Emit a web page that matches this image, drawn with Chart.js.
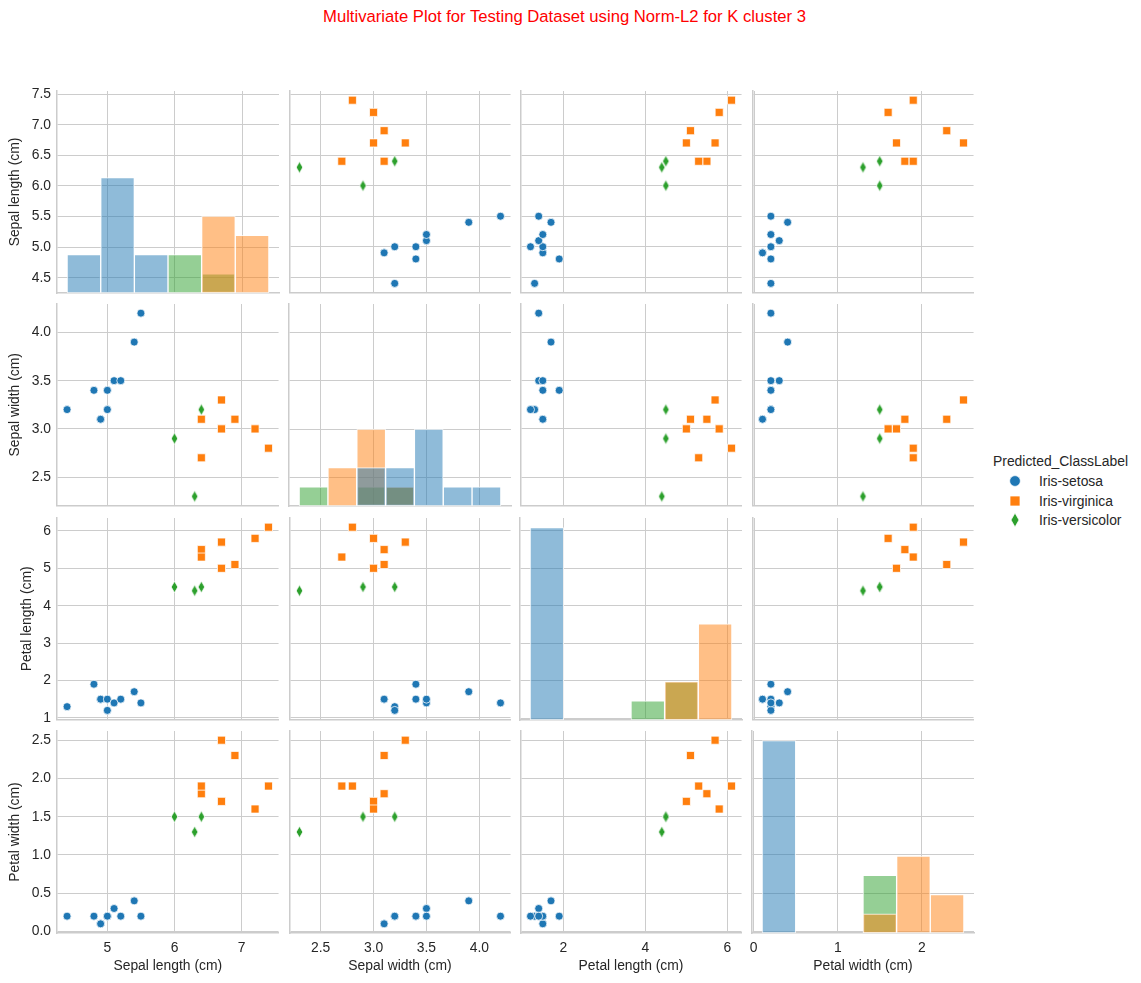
<!DOCTYPE html>
<html>
<head>
<meta charset="utf-8">
<title>Multivariate Plot</title>
<script src="https://cdn.jsdelivr.net/npm/chart.js@4"></script>
<style>
    html, body { margin: 0; padding: 0; background: #fff; }
    #page { position: relative; width: 1141px; height: 983px; overflow: hidden; font-family: "Liberation Sans", Arial, sans-serif; }
    #page canvas { position: absolute; }
    #title { position: absolute; left: 0; top: 7px; width: 1129px; margin: 0; text-align: center; color: #ff0000; font-size: 16.67px; font-weight: normal; line-height: 19px; }
    .legend-text { position: absolute; color: #262626; font-size: 13.89px; line-height: 16px; white-space: nowrap; }
</style>
</head>
<body>
<div id="page">
    <h1 id="title">Multivariate Plot for Testing Dataset using Norm-L2 for K cluster 3</h1>
</div>
<script>
const featureNames = ['Sepal length (cm)', 'Sepal width (cm)', 'Petal length (cm)', 'Petal width (cm)'];
const classNames = ['Iris-setosa', 'Iris-virginica', 'Iris-versicolor'];

// Points per class, same row order in each list
const setosaSepalLength = [4.4, 4.8, 4.9, 4.9, 5.0, 5.0, 5.1, 5.2, 5.4, 5.5];
const setosaSepalWidth = [3.2, 3.4, 3.1, 3.1, 3.4, 3.2, 3.5, 3.5, 3.9, 4.2];
const setosaPetalLength = [1.3, 1.9, 1.5, 1.5, 1.5, 1.2, 1.4, 1.5, 1.7, 1.4];
const setosaPetalWidth = [0.2, 0.2, 0.1, 0.1, 0.2, 0.2, 0.3, 0.2, 0.4, 0.2];

const virginicaSepalLength = [6.4, 6.4, 6.7, 6.7, 6.9, 7.2, 7.4];
const virginicaSepalWidth = [3.1, 2.7, 3.3, 3.0, 3.1, 3.0, 2.8];
const virginicaPetalLength = [5.5, 5.3, 5.7, 5.0, 5.1, 5.8, 6.1];
const virginicaPetalWidth = [1.8, 1.9, 2.5, 1.7, 2.3, 1.6, 1.9];

const versicolorSepalLength = [6.0, 6.3, 6.4];
const versicolorSepalWidth = [2.9, 2.3, 3.2];
const versicolorPetalLength = [4.5, 4.4, 4.5];
const versicolorPetalWidth = [1.5, 1.3, 1.5];

// Histogram bin centres and counts for the diagonal
const sepalLengthBins = [4.65, 5.15, 5.65, 6.15, 6.65, 7.15];
const sepalWidthBins = [2.436, 2.707, 2.979, 3.25, 3.521, 3.793, 4.064];
const petalLengthBins = [1.608, 2.425, 3.242, 4.058, 4.875, 5.692];
const petalWidthBins = [0.3, 0.7, 1.1, 1.5, 1.9, 2.3];

const setosaSepalLengthCounts = [2, 6, 2, 0, 0, 0];
const virginicaSepalLengthCounts = [0, 0, 0, 0, 4, 3];
const versicolorSepalLengthCounts = [0, 0, 0, 2, 1, 0];

const setosaSepalWidthCounts = [0, 0, 2, 2, 4, 1, 1];
const virginicaSepalWidthCounts = [0, 2, 4, 1, 0, 0, 0];
const versicolorSepalWidthCounts = [1, 0, 1, 1, 0, 0, 0];

const setosaPetalLengthCounts = [10, 0, 0, 0, 0, 0];
const virginicaPetalLengthCounts = [0, 0, 0, 0, 2, 5];
const versicolorPetalLengthCounts = [0, 0, 0, 1, 2, 0];

const setosaPetalWidthCounts = [10, 0, 0, 0, 0, 0];
const virginicaPetalWidthCounts = [0, 0, 0, 1, 4, 2];
const versicolorPetalWidthCounts = [0, 0, 0, 3, 0, 0];

// Tick labels
const sepalLengthTicksX = ['5', '6', '7'];
const sepalWidthTicksX = ['2.5', '3.0', '3.5', '4.0'];
const petalLengthTicksX = ['2', '4', '6'];
const petalWidthTicksX = ['0', '1', '2'];
const sepalLengthTicksY = ['4.5', '5.0', '5.5', '6.0', '6.5', '7.0', '7.5'];
const sepalWidthTicksY = ['2.5', '3.0', '3.5', '4.0'];
const petalLengthTicksY = ['1', '2', '3', '4', '5', '6'];
const petalWidthTicksY = ['0.0', '0.5', '1.0', '1.5', '2.0', '2.5'];

// Axis limits per feature
const axisMin = [4.25, 2.205, 0.955, -0.02];
const axisMax = [7.55, 4.295, 6.345, 2.62];
const countMax = 10.5;

const pointValues = [
    [setosaSepalLength, virginicaSepalLength, versicolorSepalLength],
    [setosaSepalWidth, virginicaSepalWidth, versicolorSepalWidth],
    [setosaPetalLength, virginicaPetalLength, versicolorPetalLength],
    [setosaPetalWidth, virginicaPetalWidth, versicolorPetalWidth]
];
const binCentres = [sepalLengthBins, sepalWidthBins, petalLengthBins, petalWidthBins];
const binCounts = [
    [setosaSepalLengthCounts, virginicaSepalLengthCounts, versicolorSepalLengthCounts],
    [setosaSepalWidthCounts, virginicaSepalWidthCounts, versicolorSepalWidthCounts],
    [setosaPetalLengthCounts, virginicaPetalLengthCounts, versicolorPetalLengthCounts],
    [setosaPetalWidthCounts, virginicaPetalWidthCounts, versicolorPetalWidthCounts]
];
const ticksX = [sepalLengthTicksX, sepalWidthTicksX, petalLengthTicksX, petalWidthTicksX];
const ticksY = [sepalLengthTicksY, sepalWidthTicksY, petalLengthTicksY, petalWidthTicksY];

// Layout of the grid
const panelLefts = [57, 289, 520, 752];
const panelTops = [91, 304, 518, 731];
const panelWidth = 222;
const panelHeight = 202;
const yTitlePadding = [6.5, 6.5, 18.5, 6.5];

const classColors = ['#1f77b4', '#ff7f0e', '#2ca02c'];
const barColors = ['rgba(31,119,180,0.5)', 'rgba(255,127,14,0.5)', 'rgba(44,160,44,0.5)'];
const gridColor = '#cccccc';
const textColor = '#262626';
const fontFamily = '"Liberation Sans", Arial, sans-serif';

Chart.defaults.font.family = fontFamily;
Chart.defaults.font.size = 13.89;
Chart.defaults.color = textColor;

function thinDiamond(color, halfWidth, halfHeight) {
    // matplotlib's 'd' marker has no Chart.js point style, so it is a small canvas
    const c = document.createElement('canvas');
    c.width = Math.ceil(halfWidth * 2) + 2;
    c.height = Math.ceil(halfHeight * 2) + 2;
    const ctx = c.getContext('2d');
    const mx = c.width / 2;
    const my = c.height / 2;
    ctx.beginPath();
    ctx.moveTo(mx, my - halfHeight);
    ctx.lineTo(mx + halfWidth, my);
    ctx.lineTo(mx, my + halfHeight);
    ctx.lineTo(mx - halfWidth, my);
    ctx.closePath();
    ctx.fillStyle = color;
    ctx.strokeStyle = '#ffffff';
    ctx.lineWidth = 0.75;
    ctx.fill();
    ctx.stroke();
    return c;
}

const pointStyles = ['circle', 'rect', thinDiamond(classColors[2], 3.3, 5.7)];
const pointRadii = [4, 5.7, 5];

function axisOptions(axis, feature, labels, showLabels, title, fitSize, titlePadding) {
    return {
        type: 'linear',
        axis: axis,
        position: axis === 'x' ? 'bottom' : 'left',
        min: axisMin[feature],
        max: axisMax[feature],
        offset: false,
        afterBuildTicks: scale => { scale.ticks = labels.map(l => ({ value: Number(l) })); },
        afterFit: scale => {
            // Fixed box so that every panel lines up, whatever its tick labels need
            if (axis === 'x') scale.height = fitSize; else scale.width = fitSize;
            scale.paddingTop = 0;
            scale.paddingBottom = 0;
            scale.paddingLeft = 0;
            scale.paddingRight = 0;
        },
        ticks: {
            display: showLabels,
            padding: axis === 'x' ? 7 : 6,
            autoSkip: false,
            maxRotation: 0,
            color: textColor,
            callback: (value, index) => labels[index]
        },
        grid: { color: gridColor, lineWidth: 1, drawTicks: false, offset: false },
        border: { color: gridColor, width: 1.5 },
        title: {
            display: !!title,
            text: title,
            color: textColor,
            padding: { top: titlePadding, bottom: titlePadding }
        }
    };
}

function scatterDatasets(col, row) {
    return classNames.map((name, k) => ({
        label: name,
        data: pointValues[col][k].map((v, i) => ({ x: v, y: pointValues[row][k][i] })),
        pointStyle: pointStyles[k],
        pointRadius: pointRadii[k],
        backgroundColor: classColors[k],
        borderColor: '#ffffff',
        borderWidth: 0.75
    }));
}

function histogramDatasets(col) {
    return classNames.map((name, k) => ({
        label: name,
        yAxisID: 'count',
        data: binCentres[col].map((c, i) => ({ x: c, y: binCounts[col][k][i] })),
        backgroundColor: barColors[k],
        borderColor: 'rgba(255,255,255,0.75)',
        borderWidth: 1,
        borderSkipped: false,
        grouped: false,
        categoryPercentage: 1,
        barPercentage: 1
    }));
}

function createPanel(row, col) {
    const left = col === 0 ? panelLefts[0] : 6;
    const bottom = row === 3 ? 983 - panelTops[3] - panelHeight : 6;
    const top = 10;
    const right = 6;

    const canvas = document.createElement('canvas');
    canvas.width = left + panelWidth + right;
    canvas.height = top + panelHeight + bottom;
    canvas.style.left = (panelLefts[col] - left) + 'px';
    canvas.style.top = (panelTops[row] - top) + 'px';
    document.getElementById('page').appendChild(canvas);

    const isDiagonal = row === col;
    const scales = {
        x: axisOptions('x', col, ticksX[col], row === 3, row === 3 ? featureNames[col] : '', bottom, 8.7),
        y: axisOptions('y', row, ticksY[row], col === 0, col === 0 ? featureNames[row] : '', left, yTitlePadding[row])
    };
    if (isDiagonal) {
        scales.count = { axis: 'y', position: 'left', display: false, min: 0, max: countMax };
    }

    return new Chart(canvas, {
        type: isDiagonal ? 'bar' : 'scatter',
        data: { datasets: isDiagonal ? histogramDatasets(col) : scatterDatasets(col, row) },
        options: {
            responsive: false,
            maintainAspectRatio: false,
            animation: false,
            layout: { padding: { top: top, right: right, left: 0, bottom: 0 } },
            plugins: { legend: { display: false }, tooltip: { enabled: false } },
            scales: scales
        }
    });
}

function addLegend() {
    const page = document.getElementById('page');
    const title = document.createElement('div');
    title.className = 'legend-text';
    title.textContent = 'Predicted_ClassLabel';
    title.style.left = '993px';
    title.style.top = '453px';
    page.appendChild(title);

    const rowCentres = [481, 501, 520];
    classNames.forEach((name, k) => {
        const text = document.createElement('div');
        text.className = 'legend-text';
        text.textContent = name;
        text.style.left = '1039px';
        text.style.top = (rowCentres[k] - 8) + 'px';
        page.appendChild(text);

        // Legend markers are a bit larger than the scatter points
        let swatch;
        if (k === 2) {
            swatch = thinDiamond(classColors[2], 4, 7);
        } else {
            swatch = document.createElement('canvas');
            swatch.width = 14;
            swatch.height = 14;
            const ctx = swatch.getContext('2d');
            ctx.fillStyle = classColors[k];
            ctx.strokeStyle = '#ffffff';
            ctx.lineWidth = 0.75;
            ctx.beginPath();
            if (k === 0) ctx.arc(7, 7, 5.4, 0, Math.PI * 2);
            else ctx.rect(2, 2, 10, 10);
            ctx.fill();
            ctx.stroke();
        }
        swatch.style.left = (1015 - swatch.width / 2) + 'px';
        swatch.style.top = (rowCentres[k] - swatch.height / 2) + 'px';
        page.appendChild(swatch);
    });
}

for (let row = 0; row < 4; row++) {
    for (let col = 0; col < 4; col++) {
        createPanel(row, col);
    }
}
addLegend();
</script>
</body>
</html>
